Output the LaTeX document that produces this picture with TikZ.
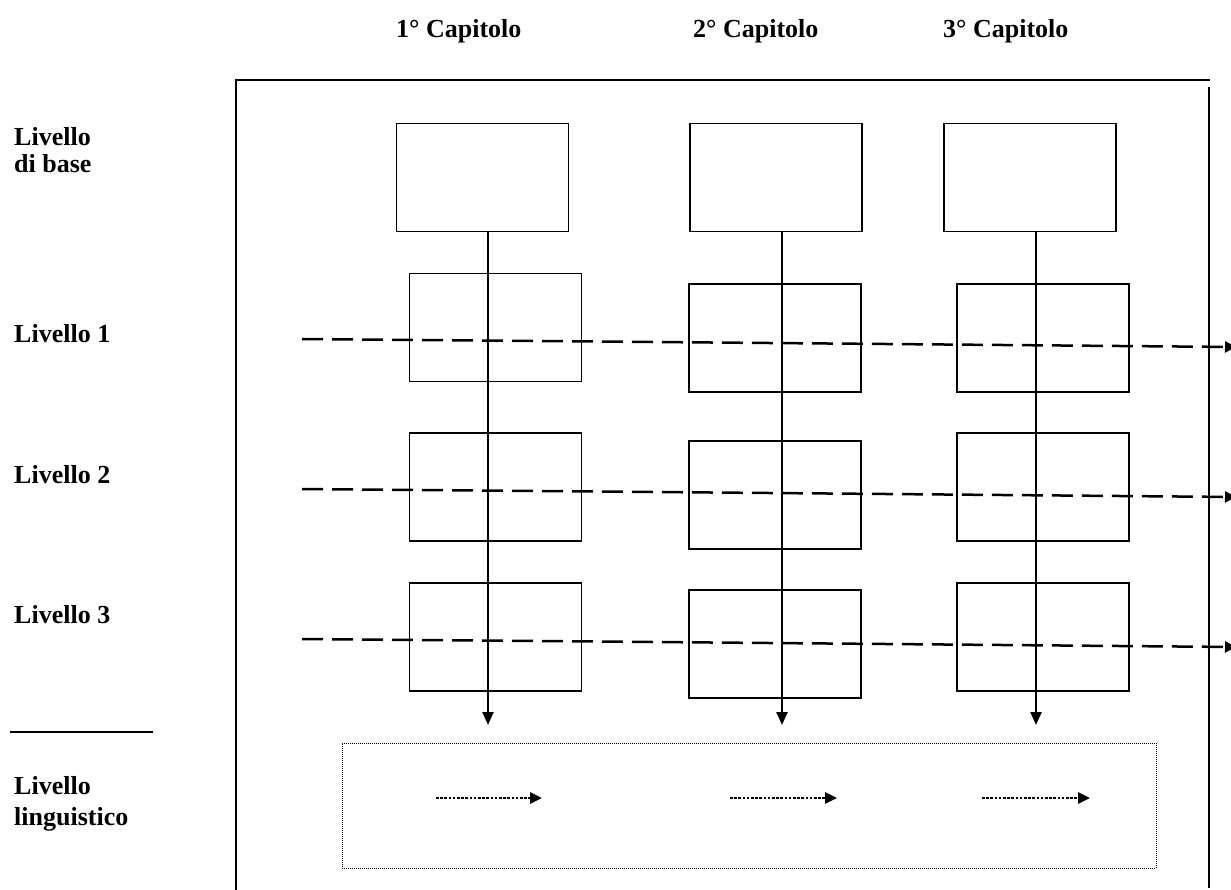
\documentclass[tikz,border=0pt]{standalone}
\usepackage{fontspec}
\setmainfont{Liberation Serif}
\usetikzlibrary{arrows.meta}
\begin{document}
\begin{tikzpicture}[x=1pt,y=-1pt,
  frameline/.style={line width=2.6pt},
  cbox/.style={draw, line width=1.6pt, minimum width=172pt, minimum height=108pt, inner sep=0pt},
  varrow/.style={line width=2.4pt, -{Triangle[length=13pt,width=11pt]}},
  dasharrow/.style={line width=2.5pt, dash pattern=on 21pt off 9pt, -{Triangle[length=11pt,width=11pt]}},
  dotbox/.style={draw, line width=1pt, dash pattern=on 1pt off 1pt, inner sep=0pt},
  dotarrow/.style={line width=2.8pt, dash pattern=on 2.5pt off 1.7pt, -{Triangle[length=12pt,width=11pt]}},
  lab/.style={font=\fontsize{26}{30}\selectfont\bfseries, anchor=base west, inner sep=0pt}]
\useasboundingbox (0,0) rectangle (1231,890);

% headers
\node[lab] (h1) at (396,38) {1° Capitolo};
\node[lab] (h2) at (693,38) {2° Capitolo};
\node[lab] (h3) at (943,38) {3° Capitolo};

% left labels
\node[lab] (l0a) at (14,146) {Livello};
\node[lab] (l0b) at (14,173) {di base};
\node[lab] (l1) at (14,343) {Livello 1};
\node[lab] (l2) at (14,483) {Livello 2};
\node[lab] (l3) at (14,623) {Livello 3};
\node[lab] (l4a) at (14,794) {Livello};
\node[lab] (l4b) at (14,825) {linguistico};
\coordinate (sepA) at (10,732);
\coordinate (sepB) at (153,732);
\draw[frameline] (sepA) -- (sepB);

% frame
\coordinate (fBL) at (236,890);
\coordinate (fTL) at (236,80);
\coordinate (fTR) at (1210,80);
\coordinate (fRT) at (1209,87);
\coordinate (fRB) at (1209,888);
\draw[frameline] (fBL) -- (fTL) -- (fTR);
\draw[frameline] (fRT) -- (fRB);

% base boxes
\node[cbox] (b1) at (482.5,177.5) {};
\node[cbox] (b2) at (776,177.5) {};
\node[cbox] (b3) at (1030,177.5) {};
% level boxes
\node[cbox] (r1c1) at (495.5,327.5) {};
\node[cbox] (r1c2) at (775,338) {};
\node[cbox] (r1c3) at (1043,338) {};
\node[cbox] (r2c1) at (495.5,487) {};
\node[cbox] (r2c2) at (775,495) {};
\node[cbox] (r2c3) at (1043,487) {};
\node[cbox] (r3c1) at (495.5,637) {};
\node[cbox] (r3c2) at (775,644) {};
\node[cbox] (r3c3) at (1043,637) {};

% vertical arrows
\coordinate (v1s) at (488,232);  \coordinate (v1e) at (488,725);
\coordinate (v2s) at (782,232);  \coordinate (v2e) at (782,725);
\coordinate (v3s) at (1036,232); \coordinate (v3e) at (1036,725);
\draw[varrow] (v1s) -- (v1e);
\draw[varrow] (v2s) -- (v2e);
\draw[varrow] (v3s) -- (v3e);

% dashed level arrows
\coordinate (d1s) at (302,339); \coordinate (d1e) at (1236,347);
\coordinate (d2s) at (302,489); \coordinate (d2e) at (1236,497);
\coordinate (d3s) at (302,639); \coordinate (d3e) at (1236,647);
\draw[dasharrow] (d1s) -- (d1e);
\draw[dasharrow] (d2s) -- (d2e);
\draw[dasharrow] (d3s) -- (d3e);

% linguistic level
\node[dotbox, minimum width=814pt, minimum height=125pt] (ling) at (749,805.5) {};
\coordinate (t1s) at (436,798); \coordinate (t1e) at (542,798);
\coordinate (t2s) at (730,798); \coordinate (t2e) at (837,798);
\coordinate (t3s) at (982,798); \coordinate (t3e) at (1090,798);
\draw[dotarrow] (t1s) -- (t1e);
\draw[dotarrow] (t2s) -- (t2e);
\draw[dotarrow] (t3s) -- (t3e);
\end{tikzpicture}
\end{document}
